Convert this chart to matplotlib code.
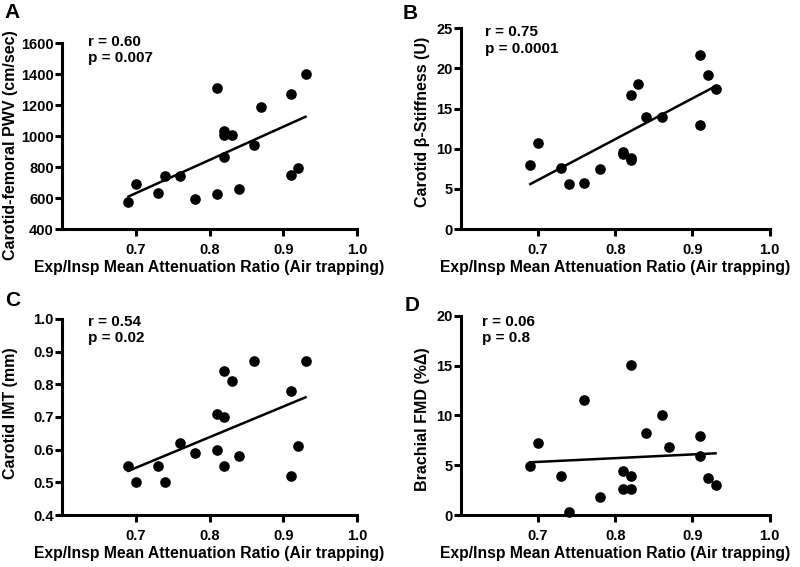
"""
Scatter plots of vascular measures vs. air trapping (4 panels).
"""

import numpy as np
import matplotlib.pyplot as plt

plt.rcParams['font.family'] = ['Liberation Sans', 'DejaVu Sans']
plt.rcParams['font.weight'] = 'bold'

# --- data ---
x_a = [0.69, 0.70, 0.73, 0.74, 0.76, 0.78, 0.81, 0.81, 0.82, 0.82,
       0.82, 0.83, 0.84, 0.86, 0.87, 0.91, 0.91, 0.92, 0.93]
pwv = [575, 690, 630, 740, 745, 595, 1310, 625, 1030, 1005,
       865, 1010, 660, 940, 1190, 1270, 750, 795, 1400]

x_b = [0.69, 0.70, 0.73, 0.74, 0.76, 0.78, 0.81, 0.81, 0.82, 0.82,
       0.82, 0.83, 0.84, 0.86, 0.91, 0.91, 0.92, 0.93]
stiffness = [8.0, 10.7, 7.6, 5.6, 5.7, 7.5, 9.6, 9.4, 16.7, 8.8,
             8.6, 18.1, 14.0, 13.9, 21.7, 12.9, 19.2, 17.4]

x_c = [0.69, 0.70, 0.73, 0.74, 0.76, 0.78, 0.81, 0.81, 0.82, 0.82,
       0.82, 0.83, 0.84, 0.86, 0.91, 0.91, 0.92, 0.93]
imt = [0.55, 0.50, 0.55, 0.50, 0.62, 0.59, 0.71, 0.60, 0.84, 0.70,
       0.55, 0.81, 0.58, 0.87, 0.78, 0.52, 0.61, 0.87]

x_d = [0.69, 0.70, 0.73, 0.74, 0.76, 0.78, 0.81, 0.81, 0.82, 0.82,
       0.82, 0.84, 0.86, 0.87, 0.91, 0.91, 0.92, 0.93]
fmd = [4.9, 7.2, 3.9, 0.3, 11.6, 1.8, 4.4, 2.6, 15.1, 3.9,
       2.6, 8.2, 10.0, 6.8, 7.9, 5.9, 3.7, 3.0]

# regression line end points (x = 0.69 and 0.93)
fit_x = [0.69, 0.93]
fit_a = [610, 1125]
fit_b = [5.6, 17.8]
fit_c = [0.535, 0.76]
fit_d = [5.3, 6.2]

xlabel = "Exp/Insp Mean Attenuation Ratio (Air trapping)"

panels = [
    # letter, rect, x, y, fit, ylabel, ylim, yticks, stats, text pos,
    # letter pos, ylabel coords
    ("A", [0.0775, 0.596, 0.369, 0.328], x_a, pwv, fit_a,
     "Carotid-femoral PWV (cm/sec)", (400, 1600), np.arange(400, 1601, 200),
     "r = 0.60\np = 0.007", (0.088, 1.045), (0.006, 0.995), (-0.149, 0.45)),
    ("B", [0.576, 0.596, 0.386, 0.354], x_b, stiffness, fit_b,
     "Carotid \u03b2-Stiffness (U)", (0, 25), np.arange(0, 26, 5),
     "r = 0.75\np = 0.0001", (0.078, 1.015), (0.503, 0.993), (-0.100, 0.535)),
    ("C", [0.0775, 0.0917, 0.369, 0.346], x_c, imt, fit_c,
     "Carotid IMT (mm)", (0.4, 1.0), np.round(np.arange(0.4, 1.01, 0.1), 1),
     "r = 0.54\np = 0.02", (0.088, 1.02), (0.006, 0.487), (-0.149, 0.52)),
    ("D", [0.576, 0.0917, 0.386, 0.351], x_d, fmd, fit_d,
     "Brachial FMD (%\u0394)", (0, 20), np.arange(0, 21, 5),
     "r = 0.06\np = 0.8", (0.068, 1.005), (0.506, 0.478), (-0.100, 0.48)),
]

fig = plt.figure(figsize=(8, 5.67), dpi=100)

for (letter, rect, xs, ys, fit, ylabel, ylim, yticks, stats, tpos, lpos,
     ypos) in panels:
    ax = fig.add_axes(rect)
    ax.scatter(xs, ys, s=44, color="black", zorder=3, clip_on=False)
    ax.plot(fit_x, fit, color="black", lw=1.8)

    ax.set_xlim(0.6, 1.0)
    ax.set_ylim(*ylim)
    ax.set_xticks([0.7, 0.8, 0.9, 1.0])
    ax.set_xticklabels(["0.7", "0.8", "0.9", "1.0"])
    ax.set_yticks(yticks)
    if letter == "C":
        ax.set_yticklabels([f"{v:.1f}" for v in yticks])

    for side in ["top", "right"]:
        ax.spines[side].set_visible(False)
    for side in ["left", "bottom"]:
        ax.spines[side].set_linewidth(2.2)
    ax.tick_params(width=2.2, length=5, labelsize=10.5)
    ax.tick_params(axis="x", pad=5)
    ax.tick_params(axis="y", pad=1)

    ax.set_xlabel(xlabel, fontsize=11.3, fontweight="bold", labelpad=2)
    ax.set_ylabel(ylabel, fontsize=11.5, fontweight="bold")
    ax.yaxis.set_label_coords(ypos[0], ypos[1])

    ax.text(tpos[0], tpos[1], stats, transform=ax.transAxes, fontsize=11,
            fontweight="bold", va="top", ha="left", linespacing=1.2)
    fig.text(lpos[0], lpos[1], letter, fontsize=15, fontweight="bold",
             va="top", ha="left")

fig.savefig("out.png", dpi=100)
